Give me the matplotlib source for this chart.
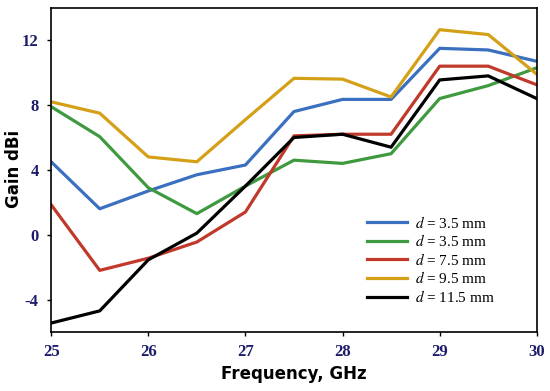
import matplotlib.pyplot as plt

plt.rcParams['mathtext.fontset'] = 'stix'

freq = [25, 25.5, 26, 26.5, 27, 27.5, 28, 28.5, 29, 29.5, 30]

gain_blue = [4.5, 1.6, 2.7, 3.7, 4.3, 7.6, 8.35, 8.35, 11.5, 11.4, 10.7]
gain_green = [7.9, 6.05, 2.9, 1.3, 3.0, 4.6, 4.4, 5.0, 8.4, 9.2, 10.3]
gain_red = [1.85, -2.2, -1.45, -0.45, 1.4, 6.1, 6.2, 6.2, 10.4, 10.4, 9.25]
gain_gold = [8.2, 7.5, 4.8, 4.5, 7.1, 9.65, 9.6, 8.5, 12.65, 12.35, 9.9]
gain_black = [-5.45, -4.7, -1.55, 0.1, 3.0, 6.0, 6.2, 5.4, 9.55, 9.8, 8.4]

labels = ["$d$ = 3.5 mm", "$d$ = 3.5 mm", "$d$ = 7.5 mm",
          "$d$ = 9.5 mm", "$d$ = 11.5 mm"]
series = [gain_blue, gain_green, gain_red, gain_gold, gain_black]
colors = ['#3b6fbf', '#3f9a3f', '#c0392b', '#d4a017', '#000000']

fig = plt.figure(figsize=(5.5, 3.91), dpi=100)
ax = fig.add_axes([0.093, 0.151, 0.883, 0.829])

for vals, lab, col in zip(series, labels, colors):
    ax.plot(freq, vals, color=col, lw=2.3, label=lab)

ax.set_xlim(25, 30)
ax.set_ylim(-6, 14)
ax.set_xticks([25, 26, 27, 28, 29, 30])
ax.set_yticks([-4, 0, 4, 8, 12])

tick_font = {'family': 'Liberation Serif', 'weight': 'bold', 'size': 12}
ax.set_xticklabels([str(t) for t in [25, 26, 27, 28, 29, 30]],
                   fontdict=tick_font, color='#1c1c6b')
ax.set_yticklabels([str(t) for t in [-4, 0, 4, 8, 12]],
                   fontdict=tick_font, color='#1c1c6b')
ax.tick_params(direction='out', length=3, width=1, pad=6)

for sp in ax.spines.values():
    sp.set_linewidth(1.2)

ax.set_xlabel("Frequency, GHz", fontsize=12, fontweight='bold', labelpad=3)
ax.set_ylabel("Gain dBi", fontsize=12, fontweight='bold')
ax.yaxis.set_label_coords(-0.058, 0.503)

ax.legend(loc='upper left', bbox_to_anchor=(0.629, 0.395), frameon=False,
          prop={'family': 'Liberation Serif', 'size': 11},
          handlelength=2.6, handletextpad=0.5, labelspacing=0.17,
          borderpad=0.2)

fig.savefig("out.png", dpi=100)
